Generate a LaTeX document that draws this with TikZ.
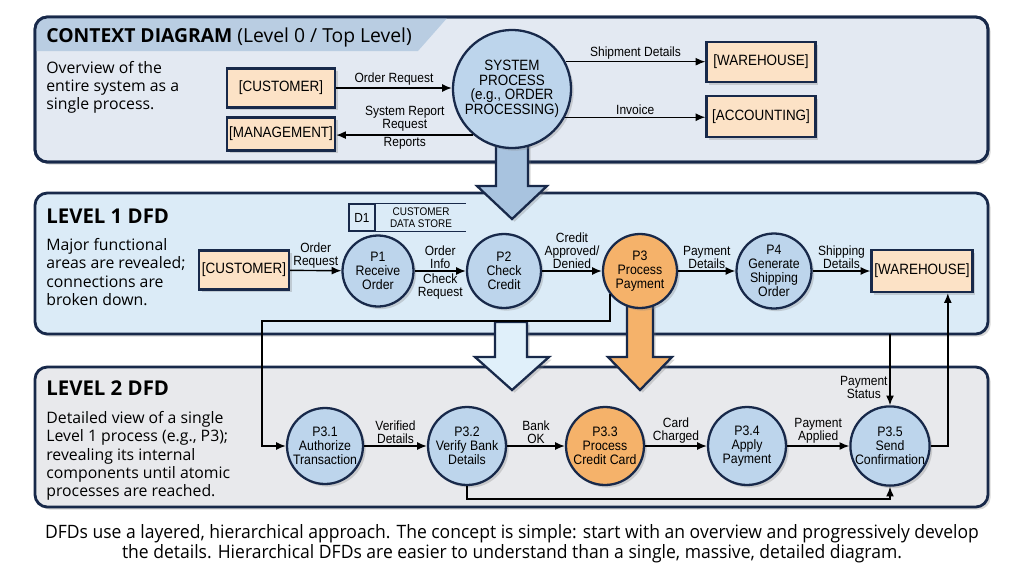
\documentclass[tikz,border=0pt]{standalone}
\usepackage{fontspec}
\setmainfont{Open Sans}
\newfontfamily\nodefont[FakeStretch=0.9]{Liberation Sans}
\newfontfamily\capfont[FakeStretch=0.95]{Open Sans}
\usepackage{tikz}
\usetikzlibrary{positioning,arrows.meta,shadows,calc}

\definecolor{navy}{HTML}{18294A}
\definecolor{ctxfill}{HTML}{E3E9F2}
\definecolor{ctxband}{HTML}{B9CDE2}
\definecolor{lvlonefill}{HTML}{DBEBF7}
\definecolor{lvltwofill}{HTML}{E8E9EC}
\definecolor{peach}{HTML}{FCE2C6}
\definecolor{procblue}{HTML}{BDD5EC}
\definecolor{procorange}{HTML}{F5B26A}
\definecolor{fatblue}{HTML}{A8C3DF}
\definecolor{fatpale}{HTML}{E0F0FA}

\begin{document}
\begin{tikzpicture}[x=0.02cm,y=-0.02cm,>={Latex[length=5.5pt,width=4.5pt]}]
  \tikzstyle{softshadow}=[drop shadow={shadow xshift=1.5pt,shadow yshift=-1.5pt,opacity=0.3}]
  \tikzstyle{panel}=[draw=navy,line width=1.6pt,rounded corners=7pt]
  \tikzstyle{entity}=[draw=navy,fill=peach,line width=1.3pt,softshadow,inner sep=0pt,font=\nodefont\fontsize{8.5}{10}\selectfont]
  \tikzstyle{proc}=[circle,draw=navy,fill=procblue,line width=1.3pt,softshadow,inner sep=0pt,align=center,font=\nodefont\fontsize{7.8}{7.9}\selectfont]
  \tikzstyle{flow}=[->,line width=0.8pt]
  \tikzstyle{lbl}=[align=center,inner sep=1pt,font=\nodefont\fontsize{7.6}{7.4}\selectfont]
  \tikzstyle{fat}=[draw=navy,line width=1.3pt,line join=miter,softshadow]
  \tikzstyle{heading}=[anchor=base west,inner sep=0pt,font=\bfseries\fontsize{11.6}{13}\selectfont]
  \tikzstyle{blurb}=[anchor=north west,inner sep=0pt,align=left,font=\fontsize{9}{10.4}\selectfont]

  \useasboundingbox (0,0) rectangle (1024,572);
  \fill[white] (0,0) rectangle (1024,572);

  % panels
  \draw[panel,fill=ctxfill,softshadow] (35,17) rectangle (988,162);
  \begin{scope}
    \clip[rounded corners=7pt] (35,17) rectangle (988,162);
    \fill[ctxband] (35,17) -- (448,17) -- (418,51) -- (35,51) -- cycle;
  \end{scope}
  \draw[panel] (35,17) rectangle (988,162);
  \draw[panel,fill=lvlonefill,softshadow] (35,193) rectangle (988,334);
  \draw[panel,fill=lvltwofill,softshadow] (35,367) rectangle (988,507);

  % level arrows
  \draw[fat,fill=fatblue] (496,140) -- (496,186) -- (477,186) -- (512,219) -- (547,186) -- (528,186) -- (528,140) -- cycle;
  \draw[fat,fill=fatpale] (495,322) -- (495,357) -- (475,357) -- (512,390) -- (549,357) -- (527,357) -- (527,322) -- cycle;
  \draw[fat,fill=procorange] (627,295) -- (627,357) -- (608,357) -- (640,390) -- (672,357) -- (653,357) -- (653,295) -- cycle;

  % headings
  \node[heading,font=\bfseries\fontsize{11}{13}\selectfont] (ctxtitle) at (46,42) {CONTEXT DIAGRAM {\mdseries (Level 0 / Top Level)}};
  \node[blurb] (ctxtext) at (46,61) {Overview of the\\entire system as a\\single process.};
  \node[heading] (lvlonetitle) at (46,223) {LEVEL 1 DFD};
  \node[blurb] (lvlonetext) at (46,238) {Major functional\\areas are revealed;\\connections are\\broken down.};
  \node[heading] (lvltwotitle) at (46,395) {LEVEL 2 DFD};
  \node[blurb] (lvltwotext) at (46,411) {Detailed view of a single\\Level 1 process (e.g., P3);\\revealing its internal\\components until atomic\\processes are reached.};

  % context level
  \node[entity,minimum width=2.16cm,minimum height=0.78cm] (custzero) at (281,88) {[CUSTOMER]};
  \node[entity,minimum width=2.16cm,minimum height=0.66cm] (mgmt) at (281,134) {[MANAGEMENT]};
  \node[entity,minimum width=2.18cm,minimum height=0.8cm] (whzero) at (761,62) {[WAREHOUSE]};
  \node[entity,minimum width=2.18cm,minimum height=0.82cm] (acct) at (761,116.5) {[ACCOUNTING]};
  \node[proc,minimum size=2.36cm,font=\nodefont\fontsize{8.5}{8.3}\selectfont] (sys) at (512,89) {SYSTEM\\PROCESS\\(e.g., ORDER\\PROCESSING)};

  \draw[flow] (custzero.east) -- node[lbl,above] {Order Request} (custzero.east -| sys.west);
  \draw[flow] (sys.230) -- node[lbl,above=1pt] {System Report\\Request} node[lbl,below] {Reports} (sys.230 -| mgmt.east);
  \draw[flow] (sys.27) -- node[lbl,above] {Shipment Details} (sys.27 -| whzero.west);
  \draw[flow] (sys.-28) -- node[lbl,above] {Invoice} (sys.-28 -| acct.west);

  % level 1
  \node[draw=navy,line width=0.8pt,minimum width=0.52cm,minimum height=0.54cm,inner sep=0pt,font=\nodefont\fontsize{7.5}{8}\selectfont] (dstoreid) at (362,217.5) {D1};
  \node[right=0pt of dstoreid,minimum width=1.8cm,minimum height=0.54cm,inner sep=0pt,align=center,font=\nodefont\fontsize{6.3}{6.5}\selectfont] (dstore) {CUSTOMER\\DATA STORE};
  \draw[navy,line width=0.8pt] (dstore.north west) -- (dstore.north east) (dstore.south west) -- (dstore.south east);

  \node[entity,minimum width=1.8cm,minimum height=0.78cm] (custone) at (244,270) {[CUSTOMER]};
  \node[proc,minimum size=1.42cm] (pone) at (378,271) {P1\\Receive\\Order};
  \node[proc,minimum size=1.48cm] (ptwo) at (504,271) {P2\\Check\\Credit};
  \node[proc,fill=procorange,minimum size=1.48cm] (pthree) at (640,271) {P3\\Process\\Payment};
  \node[proc,minimum size=1.5cm] (pfour) at (774,271) {P4\\Generate\\Shipping\\Order};
  \node[entity,minimum width=2.02cm,minimum height=0.84cm] (whone) at (922,271) {[WAREHOUSE]};

  \draw[flow] (custone) -- node[lbl,above] {Order\\Request} (pone);
  \draw[flow] (pone) -- node[lbl,above] {Order\\Info} node[lbl,below] {Check\\Request} (ptwo);
  \draw[flow] (ptwo) -- node[lbl,above] {Credit\\Approved/\\Denied} (pthree);
  \draw[flow] (pthree) -- node[lbl,above] {Payment\\Details} (pfour);
  \draw[flow] (pfour) -- node[lbl,above] {Shipping\\Details} (whone);

  % level 2
  \node[proc,minimum size=1.52cm] (pthreeone) at (325,446) {P3.1\\Authorize\\Transaction};
  \node[proc,minimum size=1.56cm] (pthreetwo) at (467,446) {P3.2\\Verify Bank\\Details};
  \node[proc,fill=procorange,minimum size=1.56cm] (pthreethree) at (605,446) {P3.3\\Process\\Credit Card};
  \node[proc,minimum size=1.56cm] (pthreefour) at (747,446) {P3.4\\Apply\\Payment};
  \node[proc,minimum size=1.58cm] (pthreefive) at (890,446) {P3.5\\Send\\Confirmation};

  \draw[flow] (pthreeone) -- node[lbl,above] {Verified\\Details} (pthreetwo);
  \draw[flow] (pthreetwo) -- node[lbl,above] {Bank\\OK} (pthreethree);
  \draw[flow] (pthreethree) -- node[lbl,above] {Card\\Charged} (pthreefour);
  \draw[flow] (pthreefour) -- node[lbl,above] {Payment\\Applied} (pthreefive);

  % between levels
  \coordinate (detour) at (262,321);
  \draw[flow] (pthree.218) |- (detour) |- (pthreeone.west);
  \draw[flow] (pthreefive.east) -| ($(whone.south)!0.5!(whone.south east)$);
  \coordinate (statustop) at (890,334);
  \draw[flow] (statustop) -- node[lbl,left,pos=0.75] {Payment\\Status} (pthreefive.north);
  \draw[flow] (pthreetwo.south) -- ++(0,13) -| (pthreefive.south);

  \node[font=\capfont\fontsize{10.5}{10.4}\selectfont,align=center] (caption) at (512,544) {DFDs use a layered, hierarchical approach. The concept is simple: start with an overview and progressively develop\\the details. Hierarchical DFDs are easier to understand than a single, massive, detailed diagram.};
\end{tikzpicture}
\end{document}
